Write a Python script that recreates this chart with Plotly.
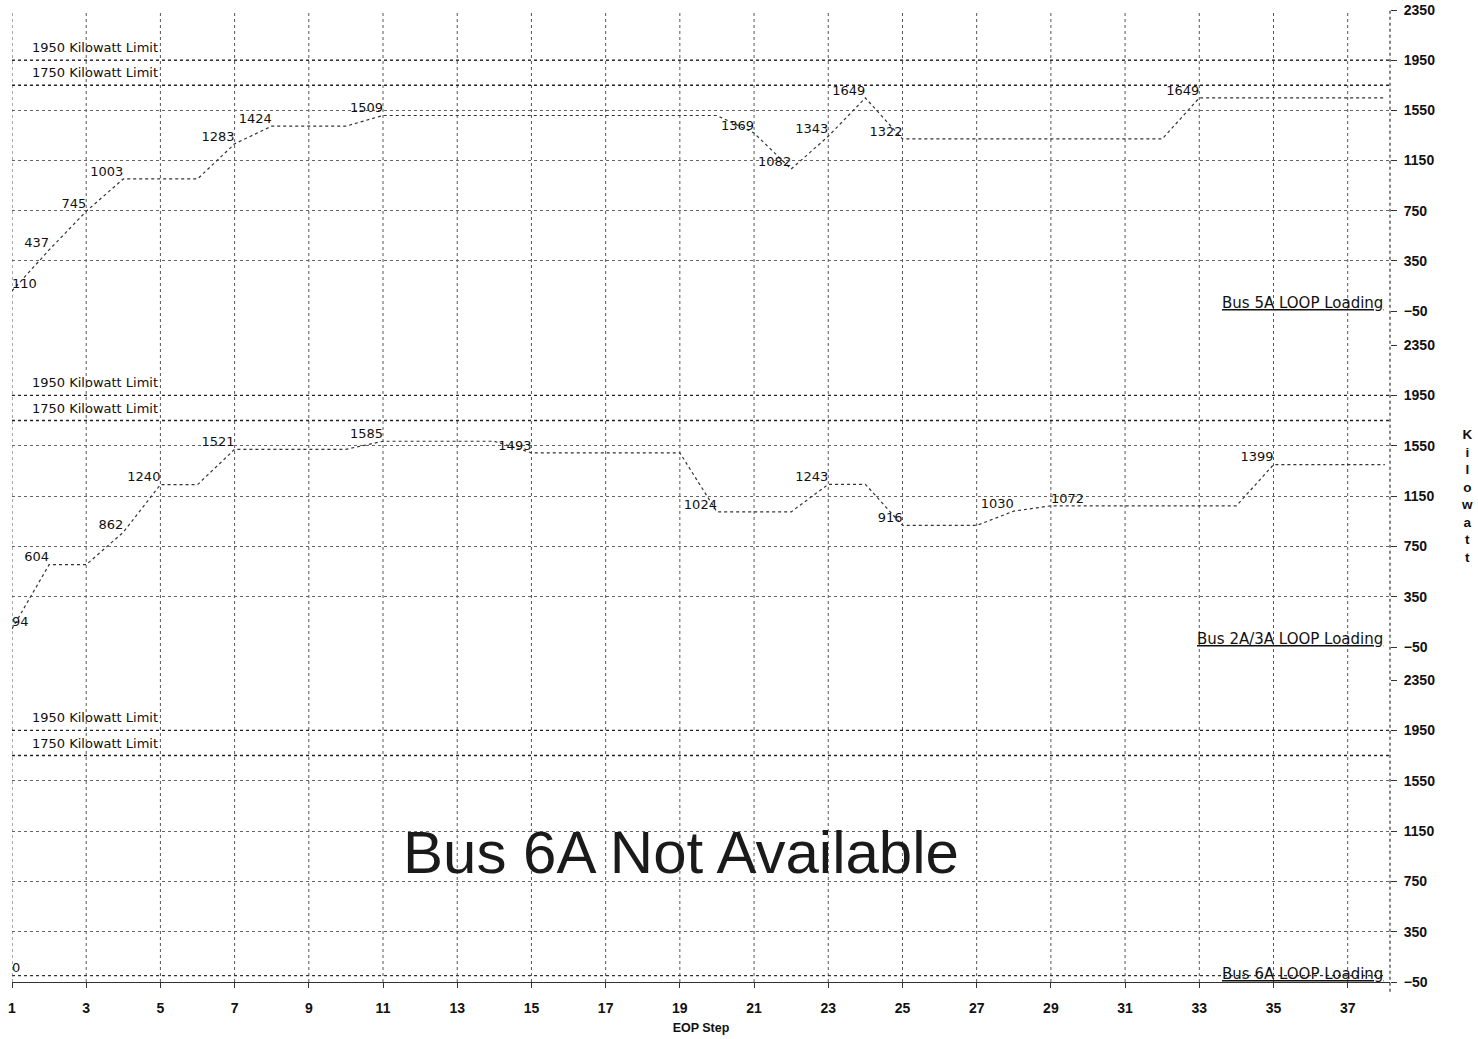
import plotly.graph_objects as go

# EOP step numbers (x) and loop loading per bus (kW)
steps = list(range(1, 39))
bus5a_kw = [110, 437, 745, 1003, 1003, 1003, 1283, 1424, 1424, 1424,
            1509, 1509, 1509, 1509, 1509, 1509, 1509, 1509, 1509, 1509,
            1369, 1082, 1343, 1649, 1322, 1322, 1322, 1322, 1322, 1322,
            1322, 1322, 1649, 1649, 1649, 1649, 1649, 1649]
bus2a3a_kw = [94, 604, 604, 862, 1240, 1240, 1521, 1521, 1521, 1521,
              1585, 1585, 1585, 1585, 1493, 1493, 1493, 1493, 1493, 1024,
              1024, 1024, 1243, 1243, 916, 916, 916, 1030, 1072, 1072,
              1072, 1072, 1072, 1072, 1399, 1399, 1399, 1399]
bus6a_kw = [0, 0, 0, 0, 0, 0, 0, 0, 0, 0,
            0, 0, 0, 0, 0, 0, 0, 0, 0, 0,
            0, 0, 0, 0, 0, 0, 0, 0, 0, 0,
            0, 0, 0, 0, 0, 0, 0, 0]

panel_names = ["Bus 5A LOOP Loading", "Bus 2A/3A LOOP Loading", "Bus 6A LOOP Loading"]
panel_series = [bus5a_kw, bus2a3a_kw, bus6a_kw]
limit_kw = [1950, 1750]
limit_text = ["1950 Kilowatt Limit", "1750 Kilowatt Limit"]
y_ticks = [-50, 350, 750, 1150, 1550, 1950, 2350]
x_ticks = list(range(1, 38, 2))
unavailable_text = "Bus 6A Not Available"

# label placement overrides (panel index, step) -> textposition
label_pos_override = {(1, 29): "top right"}

W, H = 1478, 1039
X_MAX = 38.14
M_T, M_B = 10, 57
plot_h = H - M_T - M_B
# panel extents in page pixels (top, bottom)
panel_px = [(10, 311), (345, 647), (680, 982)]
domains = [((H - M_B - b) / plot_h, (H - M_B - t) / plot_h) for t, b in panel_px]

LABEL_FONT = "DejaVu Sans"
AXIS_FONT = "Liberation Sans"
INK = "#111111"

fig = go.Figure()

for i, (name, vals) in enumerate(zip(panel_names, panel_series)):
    ax = "" if i == 0 else str(i + 1)
    xref, yref = "x" + ax, "y" + ax

    # limit lines
    for lim in limit_kw:
        fig.add_trace(go.Scatter(
            x=[steps[0], X_MAX], y=[lim, lim], mode="lines",
            line=dict(color="#222222", width=1.3, dash="dot"),
            hoverinfo="skip", showlegend=False, xaxis=xref, yaxis=yref))

    # point labels only where the loading changes
    texts, positions = [], []
    for k, v in enumerate(vals):
        show = k == 0 or v != vals[k - 1]
        texts.append(str(v) if show else "")
        if k == 0:
            positions.append("top right")
        else:
            positions.append(label_pos_override.get((i, steps[k]), "top left"))

    fig.add_trace(go.Scatter(
        x=steps, y=vals, mode="lines+text", name=name,
        text=texts, textposition=positions,
        textfont=dict(family=LABEL_FONT, size=13, color=INK),
        line=dict(color="#333333", width=1.2, dash="dot"),
        cliponaxis=False, showlegend=False, xaxis=xref, yaxis=yref))

    # limit captions
    for lim, txt in zip(limit_kw, limit_text):
        fig.add_annotation(
            x=5, y=lim, xref=xref, yref=yref, text=txt, showarrow=False,
            xanchor="right", yanchor="bottom", yshift=3,
            font=dict(family=LABEL_FONT, size=13, color=INK))

    # series caption at the lower right
    fig.add_annotation(
        x=0.9964, y=-50, xref=xref + " domain", yref=yref,
        text="<u>" + name + "</u>", showarrow=False,
        xanchor="right", yanchor="bottom", yshift=-3,
        font=dict(family=LABEL_FONT, size=15, color=INK))

    layout_x = dict(
        domain=[0, 1], range=[1, X_MAX], showgrid=False, zeroline=False,
        tickvals=x_ticks, showticklabels=(i == 2), automargin=False)
    if i > 0:
        layout_x["matches"] = "x"
    if i == 2:
        layout_x.update(
            showline=True, linecolor="#333333", linewidth=1.2,
            ticks="outside", ticklen=5, tickcolor="#333333",
            ticklabelstandoff=8,
            tickfont=dict(family=AXIS_FONT, size=14, color=INK, weight="bold"),
            title=dict(text="<b>EOP Step</b>", standoff=8,
                       font=dict(family=AXIS_FONT, size=12.5, color=INK)))
    layout_x["anchor"] = yref
    fig.layout["xaxis" + ax] = layout_x

    fig.layout["yaxis" + ax] = dict(
        domain=list(domains[i]), range=[-50, 2350], side="right",
        anchor=xref, tickvals=y_ticks, ticks="outside", ticklen=6,
        tickcolor="#333333", showgrid=True, gridcolor="#666666",
        griddash="dot", gridwidth=1, zeroline=False, automargin=False,
        ticklabelstandoff=4,
        tickfont=dict(family=AXIS_FONT, size=14, color=INK, weight="bold"))

# vertical grid lines running through all three panels
for s in x_ticks:
    fig.add_shape(type="line", xref="x", yref="paper", x0=s, x1=s, y0=0, y1=1,
                  line=dict(color="#555555", width=1, dash="dot"), layer="below")
fig.add_shape(type="line", xref="x domain", yref="paper", x0=1, x1=1, y0=-0.01, y1=1,
              line=dict(color="#333333", width=1.2, dash="dot"))

fig.add_annotation(
    x=19.03, y=980, xref="x3", yref="y3", text=unavailable_text, showarrow=False,
    font=dict(family=AXIS_FONT, size=60, color="#1a1a1a"))

fig.add_annotation(
    x=1.062, y=0.5, xref="paper", yref="paper",
    text="<br>".join("<b>" + c + "</b>" for c in "Kilowatt"),
    showarrow=False, font=dict(family=AXIS_FONT, size=13.5, color=INK))

fig.update_layout(
    width=W, height=H, autosize=False,
    margin=dict(l=12, r=88, t=M_T, b=M_B, autoexpand=False),
    paper_bgcolor="white", plot_bgcolor="white",
    showlegend=False)

fig.write_html("out.html")
